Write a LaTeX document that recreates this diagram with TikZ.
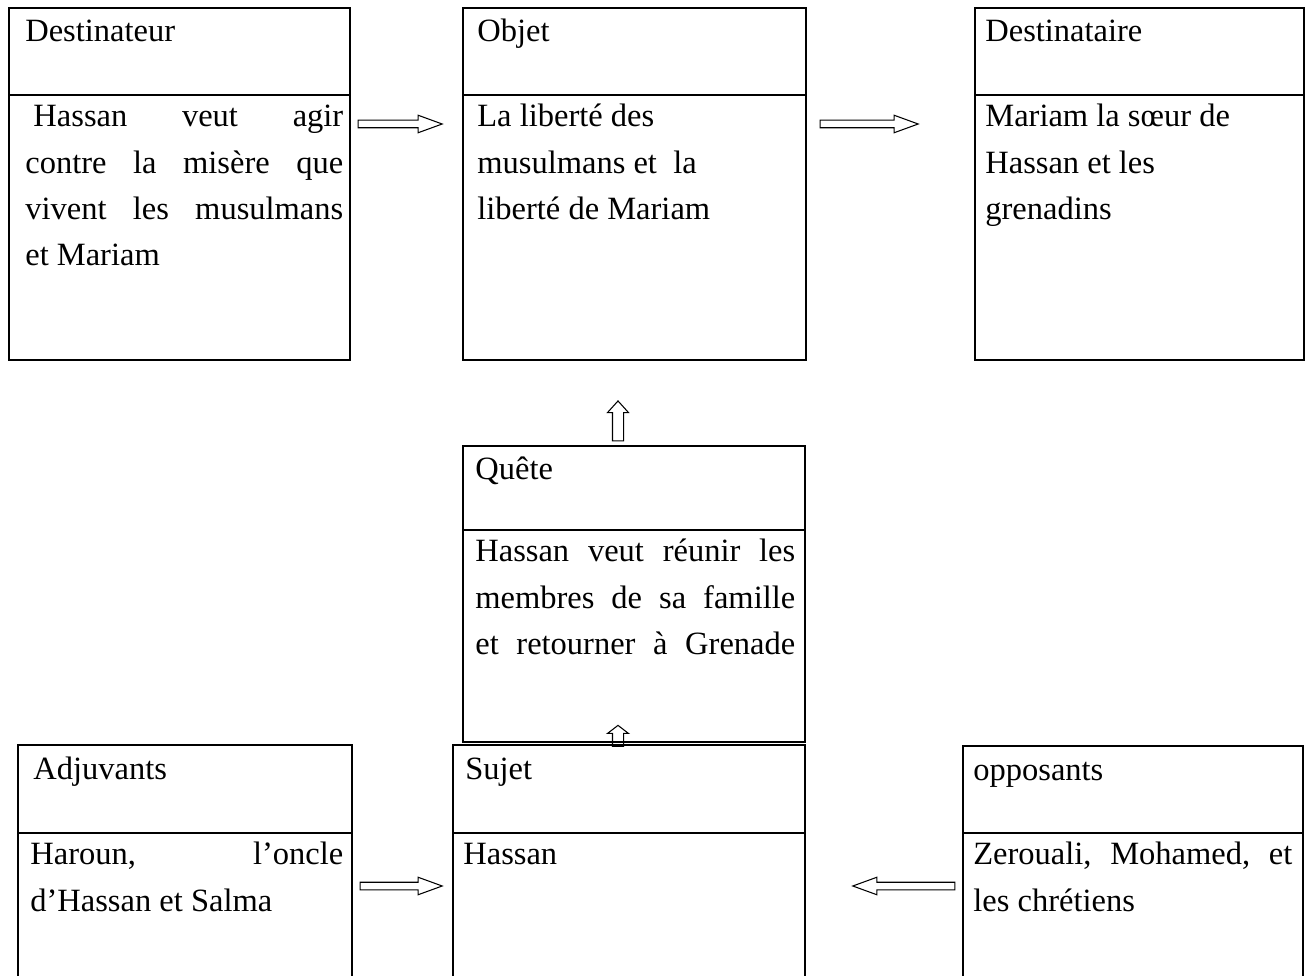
\documentclass[tikz,border=0pt]{standalone}
\usepackage{fontspec}
\setmainfont{Liberation Serif}
\usetikzlibrary{positioning, shapes.arrows, calc}

\begin{document}
\begin{tikzpicture}[
  x=0.02cm, y=-0.02cm,
  cell/.style={rectangle, draw, line width=1.3pt, anchor=north west, inner sep=0, outer sep=0},
  head/.style={anchor=base west, inner sep=0, font=\fontsize{18.5}{26.2}\selectfont},
  body/.style={anchor=base west, inner sep=0, text width=#1, align=justify,
    font=\fontsize{18.5}{26.2}\selectfont},
  harrow/.style={single arrow, draw, line width=0.6pt, inner sep=0, text height=0.13cm,
    text depth=0pt, text width=0pt, single arrow head extend=0.1cm,
    single arrow tip angle=40, minimum height=#1},
  uarrow/.style={single arrow, draw, line width=0.6pt, inner sep=0, text height=0.2cm,
    text depth=0pt, text width=0.2cm, single arrow head extend=0.1cm,
    single arrow tip angle=84, shape border rotate=90, minimum height=#1},
]
\useasboundingbox (0,0) rectangle (1306,976);
\clip (0,0) rectangle (1306,976);

% Top row
\node[cell, minimum width=6.82cm, minimum height=1.74cm] (dest-h) at (9,8) {};
\node[cell, minimum width=6.82cm, minimum height=5.30cm] (dest-b) at (dest-h.south west) {};
\node[cell, minimum width=6.86cm, minimum height=1.74cm] (obj-h) at (463,8) {};
\node[cell, minimum width=6.86cm, minimum height=5.30cm] (obj-b) at (obj-h.south west) {};
\node[cell, minimum width=6.58cm, minimum height=1.74cm] (dtr-h) at (975,8) {};
\node[cell, minimum width=6.58cm, minimum height=5.30cm] (dtr-b) at (dtr-h.south west) {};

% Quete
\node[cell, minimum width=6.84cm, minimum height=1.68cm] (que-h) at (463,446) {};
\node[cell, minimum width=6.84cm, minimum height=4.24cm] (que-b) at (que-h.south west) {};

% Bottom row
\node[cell, minimum width=6.68cm, minimum height=1.76cm] (adj-h) at (18,745) {};
\node[cell, minimum width=6.68cm, minimum height=3.20cm] (adj-b) at (adj-h.south west) {};
\node[cell, minimum width=7.04cm, minimum height=1.76cm] (suj-h) at (453,745) {};
\node[cell, minimum width=7.04cm, minimum height=3.20cm] (suj-b) at (suj-h.south west) {};
\node[cell, minimum width=6.80cm, minimum height=1.74cm] (opp-h) at (963,746) {};
\node[cell, minimum width=6.80cm, minimum height=3.20cm] (opp-b) at (opp-h.south west) {};

% Titles
\node[head] (dest-t) at ([shift={(16,34)}]dest-h.north west) {Destinateur};
\node[head] (obj-t) at ([shift={(14,34)}]obj-h.north west) {Objet};
\node[head] (dtr-t) at ([shift={(10,34)}]dtr-h.north west) {Destinataire};
\node[head] (que-t) at ([shift={(12,34)}]que-h.north west) {Quête};
\node[head] (adj-t) at ([shift={(15,34)}]adj-h.north west) {Adjuvants};
\node[head] (suj-t) at ([shift={(12,34)}]suj-h.north west) {Sujet};
\node[head] (opp-t) at ([shift={(10,34)}]opp-h.north west) {opposants};

% Contents
\node[body=6.36cm] (dest-x) at ([shift={(16,32)}]dest-b.north west)
  {\hspace*{0.25em}Hassan\hfill veut\hfill agir\\ contre\hfill la\hfill misère\hfill que\\
   vivent\hfill les\hfill musulmans\\ et Mariam};
\node[body=6.3cm] (obj-x) at ([shift={(14,32)}]obj-b.north west)
  {La liberté des\\ musulmans et~~la\\ liberté de Mariam};
\node[body=6.1cm] (dtr-x) at ([shift={(10,32)}]dtr-b.north west)
  {Mariam la sœur de\\ Hassan et les\\ grenadins};
\node[body=6.4cm] (que-x) at ([shift={(12,32)}]que-b.north west)
  {Hassan\hfill veut\hfill réunir\hfill les\\ membres\hfill de\hfill sa\hfill famille\\
   et\hfill retourner\hfill à\hfill Grenade};
\node[body=6.26cm] (adj-x) at ([shift={(12,32)}]adj-b.north west)
  {Haroun,\hfill l’oncle\\ d’Hassan et Salma};
\node[body=6.3cm] (suj-x) at ([shift={(10,32)}]suj-b.north west) {Hassan};
\node[body=6.38cm] (opp-x) at ([shift={(10,32)}]opp-b.north west)
  {Zerouali,\hfill Mohamed,\hfill et\\ les chrétiens};

% Arrows
\node[harrow=1.68cm] (a-dest) at (395,124) {};
\node[harrow=1.96cm] (a-dtr) at (864,124) {};
\node[uarrow=0.8cm] (a-que) at (618,424) {};
\node[uarrow=0.42cm, single arrow tip angle=105] (a-suj) at (618,738) {};
\node[harrow=1.64cm] (a-adj) at (396,886) {};
\node[harrow=2.04cm, shape border rotate=180] (a-opp) at (909,886) {};

\end{tikzpicture}
\end{document}
